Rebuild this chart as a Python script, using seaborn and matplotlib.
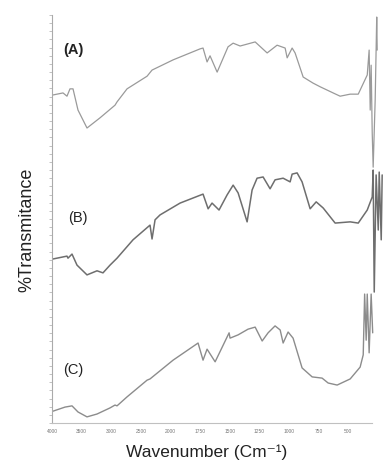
import numpy as np
import pandas as pd
import matplotlib
matplotlib.use("Agg")
import matplotlib.pyplot as plt
import seaborn as sns

# ---- data (transmittance in arbitrary offset units) ----
wn_a = [3983, 3814, 3747, 3696, 3645, 3561, 3409, 3189, 2936, 2902, 2733, 2395, 2311,
        1978, 1750, 1725, 1691, 1666, 1606, 1514, 1471, 1412, 1285, 1184, 1100, 1032,
        1015, 973, 948, 880, 796, 736, 627, 568, 483, 415, 339, 323, 314, 306, 297,
        289, 272, 259, 255]
t_a = [80.4, 80.9, 80.1, 81.9, 81.9, 76.7, 72.3, 74.8, 77.9, 78.7, 81.9, 85.0, 86.5,
       89.0, 91.7, 91.9, 88.5, 90.0, 86.0, 92.2, 93.1, 92.4, 93.4, 90.7, 92.6, 91.9,
       89.5, 91.9, 90.7, 84.8, 83.3, 82.4, 80.9, 80.1, 80.6, 80.6, 85.3, 91.4, 76.7,
       87.7, 71.1, 62.7, 79.2, 99.5, 91.4]

wn_b = [3983, 3747, 3730, 3662, 3578, 3409, 3240, 3139, 3020, 2902, 2632, 2345, 2311,
        2260, 2176, 1919, 1725, 1682, 1649, 1590, 1522, 1471, 1429, 1353, 1311, 1269,
        1218, 1159, 1117, 1049, 990, 973, 931, 889, 821, 770, 711, 610, 483, 415, 339,
        297, 289, 280, 264, 246, 238, 221, 213]
t_b = [40.2, 40.9, 40.4, 41.4, 38.7, 36.3, 37.3, 36.8, 38.7, 40.4, 44.9, 48.5, 45.1,
       49.8, 51.0, 53.9, 56.1, 52.5, 53.9, 52.2, 55.9, 58.3, 56.4, 49.3, 57.1, 60.0,
       60.3, 57.4, 59.6, 60.0, 59.1, 61.0, 61.3, 59.1, 52.5, 54.2, 52.7, 49.0, 49.3,
       49.0, 52.2, 55.4, 62.0, 32.1, 60.8, 47.3, 61.5, 44.9, 60.8]

wn_c = [3983, 3780, 3662, 3561, 3409, 3240, 3020, 2936, 2902, 2733, 2395, 2345, 1978,
        1767, 1725, 1691, 1623, 1505, 1497, 1429, 1345, 1285, 1226, 1176, 1117, 1074,
        1049, 1007, 965, 889, 804, 720, 669, 593, 483, 399, 373, 361, 348, 339, 323,
        306, 293]
t_c = [2.9, 3.9, 4.2, 2.7, 1.5, 2.2, 3.7, 4.4, 4.2, 6.4, 10.5, 10.8, 15.4,
       19.6, 15.4, 18.1, 15.0, 22.1, 20.8, 21.6, 23.0, 23.5, 20.1, 22.1, 23.8, 22.8,
       19.6, 22.3, 20.8, 13.5, 11.3, 11.0, 9.8, 9.3, 10.8, 13.7, 16.7, 31.6, 20.3,
       31.6, 17.2, 31.6, 22.1]

panel_labels = ["(A)", "(B)", "(C)"]
xtick_values = [4000, 3500, 3000, 2500, 2000, 1750, 1500, 1250, 1000, 750, 500]

# ---- figure ----
sns.set_style("white")
plt.rcParams["font.family"] = ["Liberation Sans", "DejaVu Sans"]

fig = plt.figure(figsize=(3.88, 4.63), dpi=100)
ax = fig.add_axes([0.134, 0.0864, 0.858, 0.8812])


def fwd(w):
    w = np.asarray(w, dtype=float)
    return np.where(w <= 2000, w / 250.0, 8.0 + (w - 2000.0) / 500.0)


def inv(p):
    p = np.asarray(p, dtype=float)
    return np.where(p <= 8, p * 250.0, 2000.0 + (p - 8.0) * 500.0)


ax.set_xscale("function", functions=(fwd, inv))

df_a = pd.DataFrame({"wn": wn_a, "T": t_a})
df_b = pd.DataFrame({"wn": wn_b, "T": t_b})
df_c = pd.DataFrame({"wn": wn_c, "T": t_c})

sns.lineplot(data=df_a, x="wn", y="T", sort=False, ax=ax, color="#9a9a9a", lw=0.9)
sns.lineplot(data=df_b, x="wn", y="T", sort=False, ax=ax, color="#6e6e6e", lw=1.1)
sns.lineplot(data=df_c, x="wn", y="T", sort=False, ax=ax, color="#8c8c8c", lw=1.0)

ax.set_xlim(4000, 190)
ax.set_ylim(0, 100)

ax.set_xticks(xtick_values)
ax.set_xticklabels([str(v) for v in xtick_values], fontsize=3.5, color="#777777")
minor = list(range(4000, 2000, -100)) + list(range(2000, 299, -50))
ax.set_xticks(minor, minor=True)
ax.tick_params(axis="x", which="major", length=2.5, width=0.5, color="#aaaaaa", pad=1.5)
ax.tick_params(axis="x", which="minor", length=1.5, width=0.4, color="#bbbbbb")

ax.set_yticks(np.arange(0, 101, 2))
ax.set_yticklabels([])
ax.tick_params(axis="y", which="major", length=2, width=0.5, color="#aaaaaa", left=True)

for s in ["top", "right"]:
    ax.spines[s].set_visible(False)
ax.spines["left"].set_color("#aaaaaa")
ax.spines["left"].set_linewidth(0.8)
ax.spines["bottom"].set_color("#c0c0c0")
ax.spines["bottom"].set_linewidth(0.8)
ax.spines["bottom"].set_bounds(4000, 297)

ax.set_xlabel("Wavenumber (Cm\u207b\u00b9)", fontsize=12.5, color="#222222")
ax.xaxis.set_label_coords(0.465, -0.052)
ax.set_ylabel("%Transmitance", fontsize=13, color="#222222")
ax.yaxis.set_label_coords(-0.05, 0.473)

ax.text(3814, 91.4, panel_labels[0], fontsize=10.5, fontweight="bold", color="#222222",
        va="center", ha="left")
ax.text(3730, 50.2, panel_labels[1], fontsize=10.5, color="#222222", va="center", ha="left")
ax.text(3814, 13.0, panel_labels[2], fontsize=10.5, color="#222222", va="center", ha="left")

fig.savefig("out.png", dpi=100, facecolor="white")
